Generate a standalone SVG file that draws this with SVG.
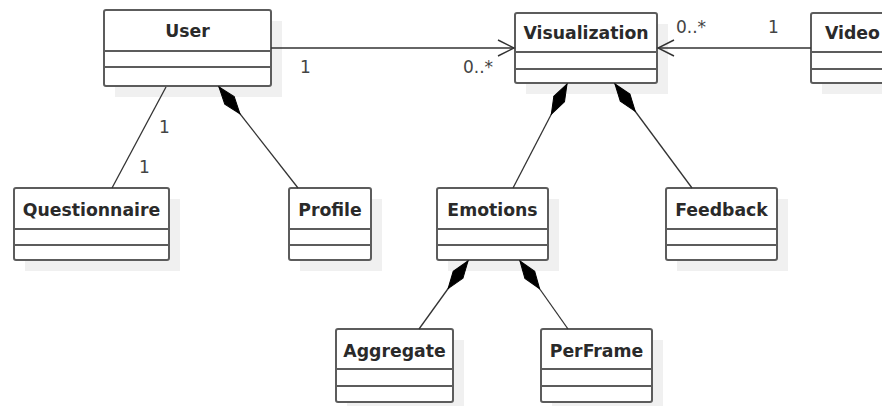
<svg xmlns="http://www.w3.org/2000/svg" width="882" height="406" viewBox="0 0 882 406">
  <style>
    .shadow { fill: #f0f0f0; stroke: none; }
    .box { fill: #ffffff; stroke: #5c5c5c; stroke-width: 2; }
    .sep { stroke: #5c5c5c; stroke-width: 2; }
    .name { font-family: "DejaVu Sans", sans-serif; font-weight: bold; font-size: 17.3px; fill: #2a2a2a; text-anchor: middle; }
    .mult { font-family: "DejaVu Sans", sans-serif; font-size: 17px; fill: #444444; }
    .conn { fill: none; stroke: #333333; stroke-width: 1.3; }
  </style>
  <defs>
    <marker id="open" markerUnits="userSpaceOnUse" markerWidth="20" markerHeight="20" viewBox="-2 -10 20 20" refX="16" refY="0" orient="auto">
      <path d="M0,-8 L16,0 L0,8" fill="none" stroke="#333333" stroke-width="1.4"/>
    </marker>
    <marker id="diamond" markerUnits="userSpaceOnUse" markerWidth="36" markerHeight="14" viewBox="0 -7 36 14" refX="35" refY="0" orient="auto">
      <path d="M35,0 L18,-6 L1,0 L18,6 Z" fill="#000000" stroke="#000000" stroke-width="1"/>
    </marker>
  </defs>

  <g id="user">
    <rect class="shadow" x="115" y="21" width="167" height="76"/>
    <rect class="box" x="104" y="10" width="167" height="76" rx="2"/>
    <line class="sep" x1="104" y1="51" x2="271" y2="51"/>
    <line class="sep" x1="104" y1="67" x2="271" y2="67"/>
    <text class="name" x="187.5" y="37">User</text>
  </g>

  <g id="visualization">
    <rect class="shadow" x="526" y="24" width="142" height="70"/>
    <rect class="box" x="515" y="13" width="142" height="70" rx="2"/>
    <line class="sep" x1="515" y1="52" x2="657" y2="52"/>
    <line class="sep" x1="515" y1="69" x2="657" y2="69"/>
    <text class="name" x="586" y="39">Visualization</text>
  </g>

  <g id="video">
    <rect class="shadow" x="822" y="24" width="100" height="70"/>
    <rect class="box" x="811" y="13" width="100" height="70" rx="2"/>
    <line class="sep" x1="811" y1="52" x2="911" y2="52"/>
    <line class="sep" x1="811" y1="69" x2="911" y2="69"/>
    <text class="name" x="825" y="39" style="text-anchor:start">Video</text>
  </g>

  <g id="questionnaire">
    <rect class="shadow" x="25" y="199" width="155" height="72"/>
    <rect class="box" x="14" y="188" width="155" height="72" rx="2"/>
    <line class="sep" x1="14" y1="229" x2="169" y2="229"/>
    <line class="sep" x1="14" y1="245" x2="169" y2="245"/>
    <text class="name" x="91.5" y="216">Questionnaire</text>
  </g>

  <g id="profile">
    <rect class="shadow" x="300" y="199" width="82" height="72"/>
    <rect class="box" x="289" y="188" width="82" height="72" rx="2"/>
    <line class="sep" x1="289" y1="229" x2="371" y2="229"/>
    <line class="sep" x1="289" y1="245" x2="371" y2="245"/>
    <text class="name" x="330" y="216">Profile</text>
  </g>

  <g id="emotions">
    <rect class="shadow" x="448" y="199" width="111" height="72"/>
    <rect class="box" x="437" y="188" width="111" height="72" rx="2"/>
    <line class="sep" x1="437" y1="229" x2="548" y2="229"/>
    <line class="sep" x1="437" y1="245" x2="548" y2="245"/>
    <text class="name" x="492.5" y="216">Emotions</text>
  </g>

  <g id="feedback">
    <rect class="shadow" x="677" y="199" width="111" height="72"/>
    <rect class="box" x="666" y="188" width="111" height="72" rx="2"/>
    <line class="sep" x1="666" y1="229" x2="777" y2="229"/>
    <line class="sep" x1="666" y1="245" x2="777" y2="245"/>
    <text class="name" x="721.5" y="216">Feedback</text>
  </g>

  <g id="aggregate">
    <rect class="shadow" x="347" y="340" width="117" height="73"/>
    <rect class="box" x="336" y="329" width="117" height="73" rx="2"/>
    <line class="sep" x1="336" y1="369" x2="453" y2="369"/>
    <line class="sep" x1="336" y1="386" x2="453" y2="386"/>
    <text class="name" x="394.5" y="357">Aggregate</text>
  </g>

  <g id="perframe">
    <rect class="shadow" x="552" y="340" width="111" height="73"/>
    <rect class="box" x="541" y="329" width="111" height="73" rx="2"/>
    <line class="sep" x1="541" y1="369" x2="652" y2="369"/>
    <line class="sep" x1="541" y1="386" x2="652" y2="386"/>
    <text class="name" x="596.5" y="357">PerFrame</text>
  </g>

  <!-- associations and compositions, drawn over the box shadows -->
  <g id="connectors">
    <line class="conn" x1="271" y1="48" x2="514" y2="48" marker-end="url(#open)"/>
    <line class="conn" x1="811" y1="48" x2="658" y2="48" marker-end="url(#open)"/>
    <line class="conn" x1="166" y1="87" x2="112" y2="188"/>
    <line class="conn" x1="298" y1="188" x2="219" y2="87" marker-end="url(#diamond)"/>
    <line class="conn" x1="513" y1="188" x2="567" y2="84" marker-end="url(#diamond)"/>
    <line class="conn" x1="692" y1="188" x2="615" y2="84" marker-end="url(#diamond)"/>
    <line class="conn" x1="419" y1="329" x2="468" y2="261" marker-end="url(#diamond)"/>
    <line class="conn" x1="568" y1="329" x2="520" y2="261" marker-end="url(#diamond)"/>
    <text class="mult" x="300" y="73">1</text>
    <text class="mult" x="463" y="73">0..*</text>
    <text class="mult" x="676" y="33">0..*</text>
    <text class="mult" x="768" y="33">1</text>
    <text class="mult" x="159" y="133">1</text>
    <text class="mult" x="139" y="173">1</text>
  </g>
</svg>
